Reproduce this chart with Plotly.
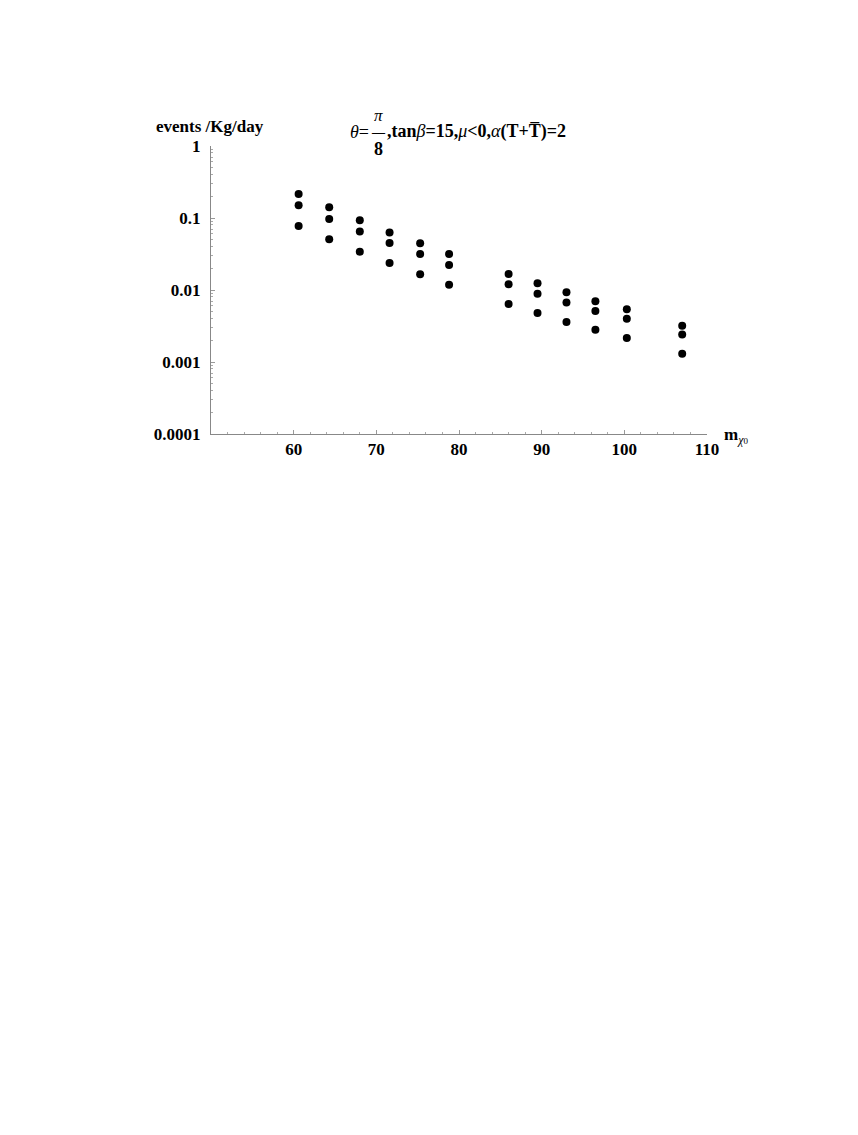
import plotly.graph_objects as go

# neutralino mass values (x) for each column of points
mass = [60.6, 64.3, 68.0, 71.6, 75.3, 78.8, 86.0, 89.5, 93.0, 96.5, 100.3, 107.0]
# event rates: upper, middle, lower dots in each column
rate_upper = [0.215, 0.141, 0.093, 0.063, 0.0445, 0.0316, 0.0167, 0.0124, 0.0093, 0.0070, 0.0054, 0.0032]
rate_middle = [0.150, 0.097, 0.065, 0.0449, 0.0316, 0.0222, 0.0120, 0.0089, 0.0067, 0.0051, 0.0040, 0.0024]
rate_lower = [0.0774, 0.0506, 0.0340, 0.0237, 0.0165, 0.0118, 0.0064, 0.0048, 0.0036, 0.0028, 0.00215, 0.0013]

x_ticks = [60, 70, 80, 90, 100, 110]
y_ticks = [1, 0.1, 0.01, 0.001, 0.0001]
y_ticktext = ["1", "0.1", "0.01", "0.001", "0.0001"]

FONT = "Liberation Serif"
# page body has an 8px margin; plot area 211..707 x 146..434 in the window
L, T, W, H = 203, 138, 496, 288

fig = go.Figure()
for series in (rate_upper, rate_middle, rate_lower):
    fig.add_trace(go.Scatter(
        x=mass, y=series, mode="markers",
        marker=dict(color="black", size=8, line=dict(width=0)),
        showlegend=False, hoverinfo="skip"))

fig.update_layout(
    width=858, height=1135,
    margin=dict(l=L, r=858 - L - W, t=T, b=1135 - T - H),
    paper_bgcolor="white", plot_bgcolor="white",
    font=dict(family=FONT, color="black"),
    xaxis=dict(
        range=[50, 110], tickvals=x_ticks,
        ticktext=[f"<b>{v}</b>" for v in x_ticks],
        ticks="inside", ticklen=4, tickcolor="#999", tickwidth=1,
        minor=dict(ticks="inside", ticklen=2, tickcolor="#aaa", dtick=2, tick0=0, showgrid=False),
        showline=True, linecolor="#888", linewidth=1,
        showgrid=False, zeroline=False,
        tickfont=dict(family=FONT, size=17, color="black"),
    ),
    yaxis=dict(
        type="log", range=[-4, 0],
        tickvals=y_ticks, ticktext=[f"<b>{t}</b>" for t in y_ticktext],
        ticks="inside", ticklen=4, tickcolor="#999", tickwidth=1,
        ticklabelstandoff=6,
        minor=dict(ticks="inside", ticklen=2, tickcolor="#aaa", dtick="D1", showgrid=False),
        showline=True, linecolor="#888", linewidth=1,
        showgrid=False, zeroline=False,
        tickfont=dict(family=FONT, size=17, color="black"),
    ),
)


def px(xw):
    return (xw - 8 - L) / W


def py(yw):
    return (T + H - (yw - 8)) / H


# y-axis label
fig.add_annotation(xref="paper", yref="paper", x=px(210), y=py(126),
                   text="<b>events /Kg/day</b>", showarrow=False,
                   font=dict(family=FONT, size=17, color="black"),
                   xanchor="center", yanchor="middle")
# x-axis label
fig.add_annotation(xref="paper", yref="paper", x=px(722), y=py(436),
                   text="<b>m</b><sub><i><span style='color:black'>χ</span></i><span style='font-size:9px;color:black'>0</span></sub>",
                   showarrow=False,
                   font=dict(family=FONT, size=17, color="black"),
                   xanchor="left", yanchor="middle")
# title pieces: theta = pi/8 , ...
FRAC_X = 378
fig.add_annotation(xref="paper", yref="paper", x=px(FRAC_X - 7), y=py(132),
                   text="<i>θ</i>=", showarrow=False,
                   font=dict(family=FONT, size=18, color="black"),
                   xanchor="right", yanchor="middle")
fig.add_annotation(xref="paper", yref="paper", x=px(FRAC_X), y=py(116),
                   text="<i>π</i>", showarrow=False,
                   font=dict(family=FONT, size=17, color="black"),
                   xanchor="center", yanchor="middle")
fig.add_annotation(xref="paper", yref="paper", x=px(FRAC_X), y=py(131),
                   text="<b>—</b>", showarrow=False,
                   font=dict(family=FONT, size=13, color="black"),
                   xanchor="center", yanchor="middle")
fig.add_annotation(xref="paper", yref="paper", x=px(FRAC_X), y=py(149),
                   text="<b>8</b>", showarrow=False,
                   font=dict(family=FONT, size=18, color="black"),
                   xanchor="center", yanchor="middle")
fig.add_annotation(xref="paper", yref="paper", x=px(FRAC_X + 7), y=py(132),
                   text="<b>,tan</b><i>β</i><b>=15,</b><i>μ</i><b>&lt;0,</b><i>α</i><b>(T+T\u0305)=2</b>",
                   showarrow=False,
                   font=dict(family=FONT, size=18, color="black"),
                   xanchor="left", yanchor="middle")

fig.write_html("out.html")
